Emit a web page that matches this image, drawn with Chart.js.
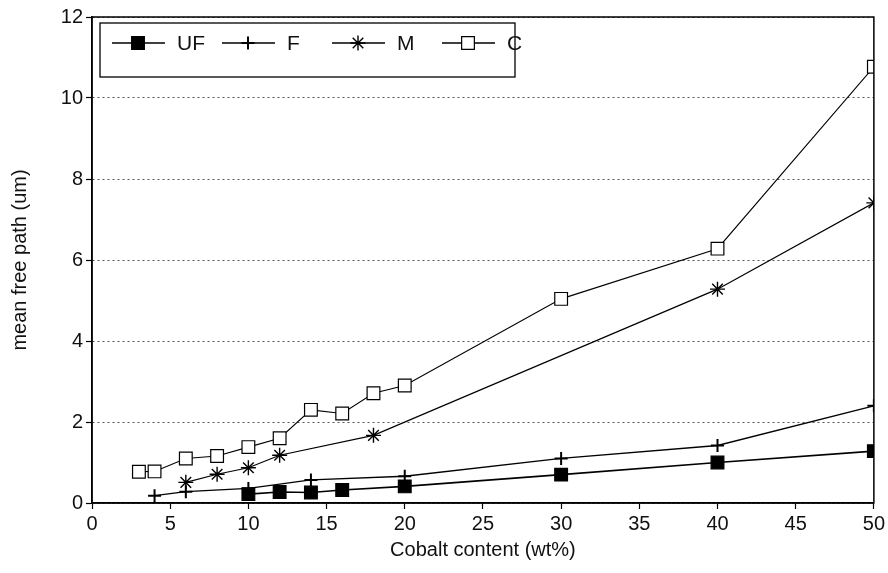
<!DOCTYPE html>
<html lang="en">

<head>
    <meta charset="UTF-8">
    <meta name="viewport" content="width=device-width, initial-scale=1.0">
    <title>Mean free path vs cobalt content</title>
    <script src="https://cdn.jsdelivr.net/npm/chart.js"></script>
    <style>
        body {
            margin: 0;
            background: #fff;
        }

        #wrap {
            width: 888px;
            height: 573px;
        }
    </style>
</head>

<body>
    <div id="wrap">
        <canvas id="mfpChart" width="888" height="573"></canvas>
    </div>

    <script>
        // cobalt content (wt%) and mean free path (um) for each grain grade
        var ufCo = [10, 12, 14, 16, 20, 30, 40, 50];
        var ufMfp = [0.22, 0.27, 0.26, 0.32, 0.41, 0.70, 1.00, 1.28];

        var fCo = [4, 6, 10, 14, 20, 30, 40, 50];
        var fMfp = [0.18, 0.28, 0.36, 0.57, 0.66, 1.10, 1.42, 2.40];

        var mCo = [6, 8, 10, 12, 18, 40, 50];
        var mMfp = [0.51, 0.71, 0.87, 1.18, 1.67, 5.28, 7.41];

        var cCo = [3, 4, 6, 8, 10, 12, 14, 16, 18, 20, 30, 40, 50];
        var cMfp = [0.77, 0.78, 1.10, 1.16, 1.38, 1.60, 2.30, 2.21, 2.71, 2.90, 5.04, 6.28, 10.77];

        var gradeNames = ['UF', 'F', 'M', 'C'];

        // axis ranges and tick steps
        var xRange = [0, 50];
        var xStep = 5;
        var yRange = [0, 12];
        var yStep = 2;

        var FONT = "'Liberation Sans', Arial, sans-serif";

        function toPoints(xs, ys) {
            return xs.map(function (x, i) {
                return { x: x, y: ys[i] };
            });
        }

        function series(name, xs, ys, style, fill, radius, bw, lw) {
            return {
                label: name,
                data: toPoints(xs, ys),
                borderColor: '#000',
                borderWidth: lw,
                pointStyle: style,
                pointRadius: radius,
                pointHoverRadius: radius,
                pointBorderWidth: bw,
                pointBorderColor: '#000',
                pointBackgroundColor: fill,
                tension: 0,
                fill: false
            };
        }

        // little marker painter for the legend, same shapes as the points
        function drawMarker(ctx, ds, x, y) {
            var r = ds.pointRadius;
            ctx.lineWidth = ds.pointBorderWidth;
            ctx.strokeStyle = '#000';
            ctx.fillStyle = ds.pointBackgroundColor;
            ctx.beginPath();
            if (ds.pointStyle === 'rect') {
                var s = Math.SQRT1_2 * r;
                ctx.rect(x - s, y - s, 2 * s, 2 * s);
                ctx.fill();
                ctx.stroke();
                return;
            }
            ctx.moveTo(x, y - r);
            ctx.lineTo(x, y + r);
            ctx.moveTo(x - r, y);
            ctx.lineTo(x + r, y);
            if (ds.pointStyle === 'star') {
                var d = Math.SQRT1_2 * r;
                ctx.moveTo(x - d, y - d);
                ctx.lineTo(x + d, y + d);
                ctx.moveTo(x - d, y + d);
                ctx.lineTo(x + d, y - d);
            }
            ctx.stroke();
        }

        // boxed legend in the top-left corner of the plot
        var legendBox = {
            id: 'legendBox',
            afterDatasetsDraw: function (chart) {
                var ctx = chart.ctx;
                var area = chart.chartArea;
                var x0 = area.left + 8;
                var y0 = area.top + 6;
                ctx.save();
                ctx.fillStyle = '#fff';
                ctx.fillRect(x0, y0, 415, 54);
                ctx.strokeStyle = '#000';
                ctx.lineWidth = 1.3;
                ctx.strokeRect(x0, y0, 415, 54);

                chart.data.datasets.forEach(function (ds, i) {
                    var lx = x0 + 12 + i * 110;
                    var ly = y0 + 20;
                    ctx.beginPath();
                    ctx.lineWidth = 1.3;
                    ctx.strokeStyle = '#000';
                    ctx.moveTo(lx, ly);
                    ctx.lineTo(lx + 53, ly);
                    ctx.stroke();
                    drawMarker(ctx, ds, lx + 26, ly);
                    ctx.fillStyle = '#111';
                    ctx.font = '21px ' + FONT;
                    ctx.textBaseline = 'middle';
                    ctx.textAlign = 'left';
                    ctx.fillText(ds.label, lx + 65, ly + 1);
                });
                ctx.restore();
            }
        };

        // closes the plot with top and right edges
        var plotFrame = {
            id: 'plotFrame',
            afterDraw: function (chart) {
                var a = chart.chartArea;
                var ctx = chart.ctx;
                ctx.save();
                ctx.strokeStyle = '#000';
                ctx.lineWidth = 1.5;
                ctx.strokeRect(a.left, a.top, a.right - a.left, a.bottom - a.top);
                ctx.restore();
            }
        };

        var ctx = document.getElementById('mfpChart').getContext('2d');
        var mfpChart = new Chart(ctx, {
            type: 'line',
            data: {
                datasets: [
                    series(gradeNames[0], ufCo, ufMfp, 'rect', '#000', 9, 1.2, 1.6),
                    series(gradeNames[1], fCo, fMfp, 'cross', '#000', 6.5, 2, 1.3),
                    series(gradeNames[2], mCo, mMfp, 'star', '#000', 7.5, 1.4, 1.2),
                    series(gradeNames[3], cCo, cMfp, 'rect', '#fff', 9, 1.2, 1.1)
                ]
            },
            options: {
                responsive: false,
                animation: false,
                devicePixelRatio: 1,
                layout: {
                    padding: { top: 17, right: 14, left: 0, bottom: 0 }
                },
                plugins: {
                    legend: { display: false },
                    tooltip: { enabled: false }
                },
                scales: {
                    x: {
                        type: 'linear',
                        min: xRange[0],
                        max: xRange[1],
                        afterFit: function (scale) {
                            scale.height = 70;
                        },
                        ticks: {
                            stepSize: xStep,
                            padding: 3,
                            color: '#111',
                            font: { family: FONT, size: 20 },
                            maxRotation: 0
                        },
                        grid: {
                            drawOnChartArea: false,
                            tickLength: 6,
                            tickColor: '#000',
                            tickWidth: 1.2
                        },
                        border: { color: '#000', width: 1.5 },
                        title: {
                            display: true,
                            text: 'Cobalt content (wt%)',
                            color: '#111',
                            font: { family: FONT, size: 20 },
                            padding: { top: 0, bottom: 11 }
                        }
                    },
                    y: {
                        min: yRange[0],
                        max: yRange[1],
                        afterFit: function (scale) {
                            scale.width = 92;
                        },
                        ticks: {
                            stepSize: yStep,
                            padding: 3,
                            color: '#111',
                            font: { family: FONT, size: 20 }
                        },
                        grid: {
                            color: '#555',
                            lineWidth: 1,
                            tickLength: 6,
                            tickColor: '#000',
                            tickWidth: 1.2,
                            tickBorderDash: []
                        },
                        border: { color: '#000', width: 1.5, dash: [2, 3] },
                        title: {
                            display: true,
                            text: 'mean free path (um)',
                            color: '#111',
                            font: { family: FONT, size: 20 },
                            padding: { top: 8, bottom: 0 }
                        }
                    }
                }
            },
            plugins: [legendBox, plotFrame]
        });
    </script>
</body>

</html>
